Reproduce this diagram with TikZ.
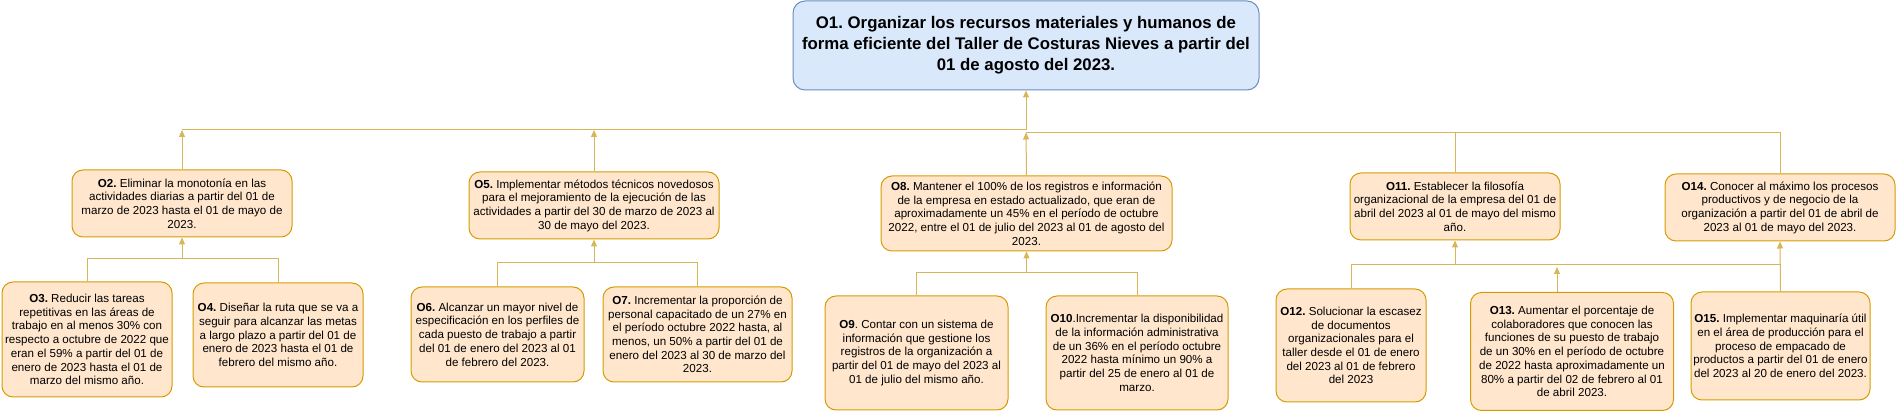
\documentclass[tikz,border=0pt]{standalone}
\usepackage{fontspec}
\setmainfont{Liberation Sans}
\frenchspacing
\usetikzlibrary{arrows.meta}
\definecolor{ofill}{HTML}{FFE6CC}
\definecolor{ostroke}{HTML}{D79B00}
\definecolor{bfill}{HTML}{DAE8FC}
\definecolor{bstroke}{HTML}{6C8EBF}
\definecolor{conncol}{HTML}{D6B656}
\tikzset{
  obox/.style={draw=ostroke, fill=ofill, line width=1pt, rounded corners=11pt, align=center, inner sep=0pt, font=\frenchspacing\fontsize{11.6}{13.7}\selectfont},
  topbox/.style={draw=bstroke, fill=bfill, line width=1pt, rounded corners=12pt, align=center, inner sep=0pt, font=\frenchspacing\bfseries\fontsize{16.8}{21}\selectfont},
  conn/.style={draw=conncol, line width=1pt},
  arr/.style={conn, -{Triangle[width=6pt,length=7pt]}}
}
\begin{document}
\begin{tikzpicture}[x=1pt,y=-1pt]
\useasboundingbox (0,0) rectangle (1896,411);
\node[topbox, minimum width=466pt, minimum height=89pt] (o1) at (1026,45.5) {O1. Organizar los recursos materiales y humanos de\\forma eficiente del Taller de Costuras Nieves a partir del\\01 de agosto del 2023.};
\node[obox, minimum width=220pt, minimum height=67pt] (o2) at (182,203.5) {\textbf{O2.} Eliminar la monotonía en las\\actividades diarias a partir del 01 de\\marzo de 2023 hasta el 01 de mayo de\\2023.};
\node[obox, minimum width=170pt, minimum height=115pt] (o3) at (87,339.5) {\textbf{O3.} Reducir las tareas\\repetitivas en las áreas de\\trabajo en al menos 30\% con\\respecto a octubre de 2022 que\\eran el 59\% a partir del 01 de\\enero de 2023 hasta el 01 de\\marzo del mismo año.};
\node[obox, minimum width=170pt, minimum height=104pt] (o4) at (278,335) {\textbf{O4.} Diseñar la ruta que se va a\\seguir para alcanzar las metas\\a largo plazo a partir del 01 de\\enero de 2023 hasta el 01 de\\febrero del mismo año.};
\node[obox, minimum width=250pt, minimum height=67pt] (o5) at (594,205.5) {\textbf{O5.} Implementar métodos técnicos novedosos\\para el mejoramiento de la ejecución de las\\actividades a partir del 30 de marzo de 2023 al\\30 de mayo del 2023.};
\node[obox, minimum width=173pt, minimum height=95pt] (o6) at (497.5,334.5) {\textbf{O6.} Alcanzar un mayor nivel de\\especificación en los perfiles de\\cada puesto de trabajo a partir\\del 01 de enero del 2023 al 01\\de febrero del 2023.};
\node[obox, minimum width=189pt, minimum height=95pt] (o7) at (697.5,334.5) {\textbf{O7.} Incrementar la proporción de\\personal capacitado de un 27\% en\\el período octubre 2022 hasta, al\\menos, un 50\% a partir del 01 de\\enero del 2023 al 30 de marzo del\\2023.};
\node[obox, minimum width=291pt, minimum height=75pt] (o8) at (1026.5,213.5) {\textbf{O8.} Mantener el 100\% de los registros e información\\de la empresa en estado actualizado, que eran de\\aproximadamente un 45\% en el período de octubre\\2022, entre el 01 de julio del 2023 al 01 de agosto del\\2023.};
\node[obox, minimum width=183pt, minimum height=114pt] (o9) at (916.5,353) {\textbf{O9}. Contar con un sistema de\\información que gestione los\\registros de la organización a\\partir del 01 de mayo del 2023 al\\01 de julio del mismo año.};
\node[obox, minimum width=182pt, minimum height=114pt] (o10) at (1137,353) {\textbf{O10}.Incrementar la disponibilidad\\de la información administrativa\\de un 36\% en el período octubre\\2022 hasta mínimo un 90\% a\\partir del 25 de enero al 01 de\\marzo.};
\node[obox, minimum width=210pt, minimum height=67pt] (o11) at (1455,206.5) {\textbf{O11.} Establecer la filosofía\\organizacional de la empresa del 01 de\\abril del 2023 al 01 de mayo del mismo\\año.};
\node[obox, minimum width=150pt, minimum height=113pt] (o12) at (1351,345.5) {\textbf{O12.} Solucionar la escasez\\de documentos\\organizacionales para el\\taller desde el 01 de enero\\del 2023 al 01 de febrero\\del 2023};
\node[obox, minimum width=203pt, minimum height=118pt] (o13) at (1572,351.5) {\textbf{O13.} Aumentar el porcentaje de\\colaboradores que conocen las\\funciones de su puesto de trabajo\\de un 30\% en el período de octubre\\de 2022 hasta aproximadamente un\\80\% a partir del 02 de febrero al 01\\de abril 2023.};
\node[obox, minimum width=230pt, minimum height=67pt] (o14) at (1780,207.5) {\textbf{O14.} Conocer al máximo los procesos\\productivos y de negocio de la\\organización a partir del 01 de abril de\\2023 al 01 de mayo del 2023.};
\node[obox, minimum width=179pt, minimum height=108pt] (o15) at (1780.5,346) {\textbf{O15.} Implementar maquinaría útil\\en el área de producción para el\\proceso de empacado de\\productos a partir del 01 de enero\\del 2023 al 20 de enero del 2023.};
% top level junctions
\coordinate (hub) at (1026,130);
\coordinate (hubb) at (1026,132.5);
\draw[arr] (o2.north) -- (o2.north |- hub);
\draw[arr] (o5.north) -- (o5.north |- hub);
\draw[conn] (o2.north |- hub) -- (hub);
\draw[arr] (hub) -- (o1.south);
\draw[arr] (o8.north) -- (hubb);
\draw[conn] (o11.north) -- (o11.north |- hubb);
\draw[conn] (o14.north) |- (hubb);
% O2 group
\coordinate (j2) at (182,259);
\draw[conn] (o3.north) |- (o4.north |- j2) -- (o4.north);
\draw[arr] (j2) -- (o2.south);
% O5 group
\coordinate (j5) at (594,263);
\draw[conn] (o6.north) |- (o7.north |- j5) -- (o7.north);
\draw[arr] (j5) -- (o5.south);
% O8 group
\coordinate (j8) at (1026.5,273);
\draw[conn] (o9.north) |- (o10.north |- j8) -- (o10.north);
\draw[arr] (j8) -- (o8.south);
% O11 / O14 group
\coordinate (j11) at (1455,264.5);
\coordinate (t13) at (1557,267);
\draw[conn] (o12.north) |- (j11);
\draw[arr] (j11) -- (o11.south);
\draw[conn] (j11) -- (o15.north |- j11);
\draw[arr] ([xshift=-15pt]o13.north) -- (t13);
\draw[arr] (o15.north) -- (o14.south);
\end{tikzpicture}
\end{document}
